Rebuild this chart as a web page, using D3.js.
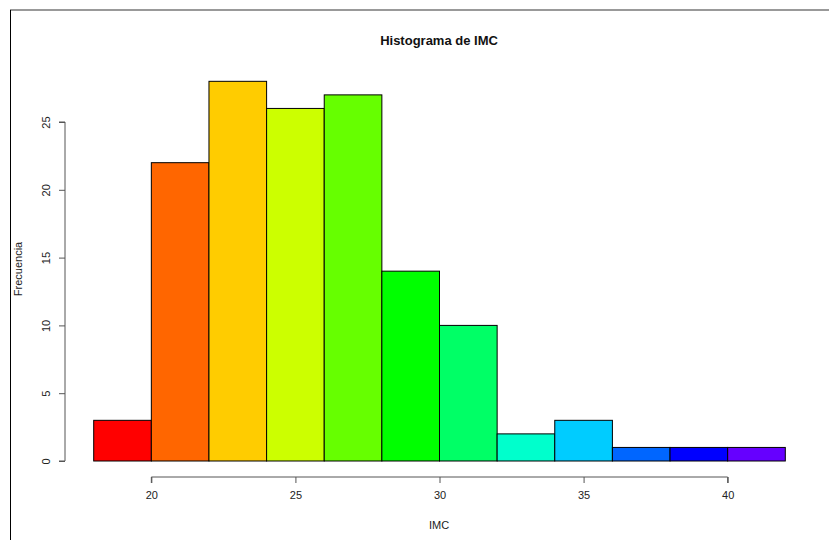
<!DOCTYPE html>
<html><head><meta charset="utf-8">
<script src="https://cdn.jsdelivr.net/npm/d3@7"></script>
<style>body{margin:0;background:#fff}svg{display:block;font-family:"Liberation Sans",Arial,sans-serif}</style>
</head><body><svg id="c" width="829" height="540"></svg>
<script>
const binStarts = [18,20,22,24,26,28,30,32,34,36,38,40];
const binWidth = 2;
const counts = [3,22,28,26,27,14,10,2,3,1,1,1];
const colors = ["#FF0000","#FF6600","#FFCC00","#CCFF00","#66FF00","#00FF00","#00FF66","#00FFCC","#00CCFF","#0066FF","#0000FF","#6600FF"];
const xTicks = [20,25,30,35,40];
const yTicks = [0,5,10,15,20,25];

const svg = d3.select("#c");
const x = d3.scaleLinear().domain([18,42]).range([93.7,785.3]);
const y = d3.scaleLinear().domain([0,25]).range([461,122]);

// frame lines
svg.append("line").attr("x1",10).attr("x2",829).attr("y1",10).attr("y2",10).attr("stroke","#777").attr("stroke-width",1.5);
svg.append("line").attr("x1",10.5).attr("x2",10.5).attr("y1",10).attr("y2",540).attr("stroke","#000").attr("stroke-width",1);

svg.selectAll("rect.bar").data(binStarts).join("rect")
  .attr("class","bar")
  .attr("x",d=>x(d)).attr("width",d=>x(d+binWidth)-x(d))
  .attr("y",(d,i)=>y(counts[i])).attr("height",(d,i)=>y(0)-y(counts[i]))
  .attr("fill",(d,i)=>colors[i]).attr("stroke","#000").attr("stroke-width",1);

const xa = svg.append("g").attr("transform","translate(0,477)")
  .call(d3.axisBottom(x).tickValues(xTicks).tickSize(6).tickPadding(8).tickSizeOuter(0));
xa.select(".domain").attr("d",`M${x(20)},6V0H${x(40)}V6`);
const ya = svg.append("g").attr("transform","translate(65,0)")
  .call(d3.axisLeft(y).tickValues(yTicks).tickSize(6).tickSizeOuter(0));
ya.select(".domain").attr("d",`M-6,${y(0)}H0V${y(25)}H-6`);
[xa,ya].forEach(a=>{a.selectAll(".domain,line").attr("stroke","#555");a.selectAll("text").attr("fill","#222").style("font-size","11px").style("font-family","Liberation Sans, Arial, sans-serif");});
ya.selectAll("text").attr("transform",d=>`rotate(-90,-18,${y(d)})`).attr("x",-18).attr("dy","0.35em").attr("text-anchor","middle").attr("y",null);
ya.selectAll(".tick text").attr("transform",null).each(function(){
  d3.select(this).attr("x",0).attr("y",0).attr("dy",null).attr("transform","translate(-15,0) rotate(-90)").attr("text-anchor","middle");
});

svg.append("text").attr("x",439).attr("y",45).attr("text-anchor","middle").style("font-weight","bold").style("font-size","13px").attr("fill","#111").text("Histograma de IMC");
svg.append("text").attr("x",439).attr("y",529).attr("text-anchor","middle").style("font-size","11px").attr("fill","#222").text("IMC");
svg.append("text").attr("transform","translate(22,269) rotate(-90)").attr("text-anchor","middle").style("font-size","11px").attr("fill","#222").text("Frecuencia");
</script></body></html>
